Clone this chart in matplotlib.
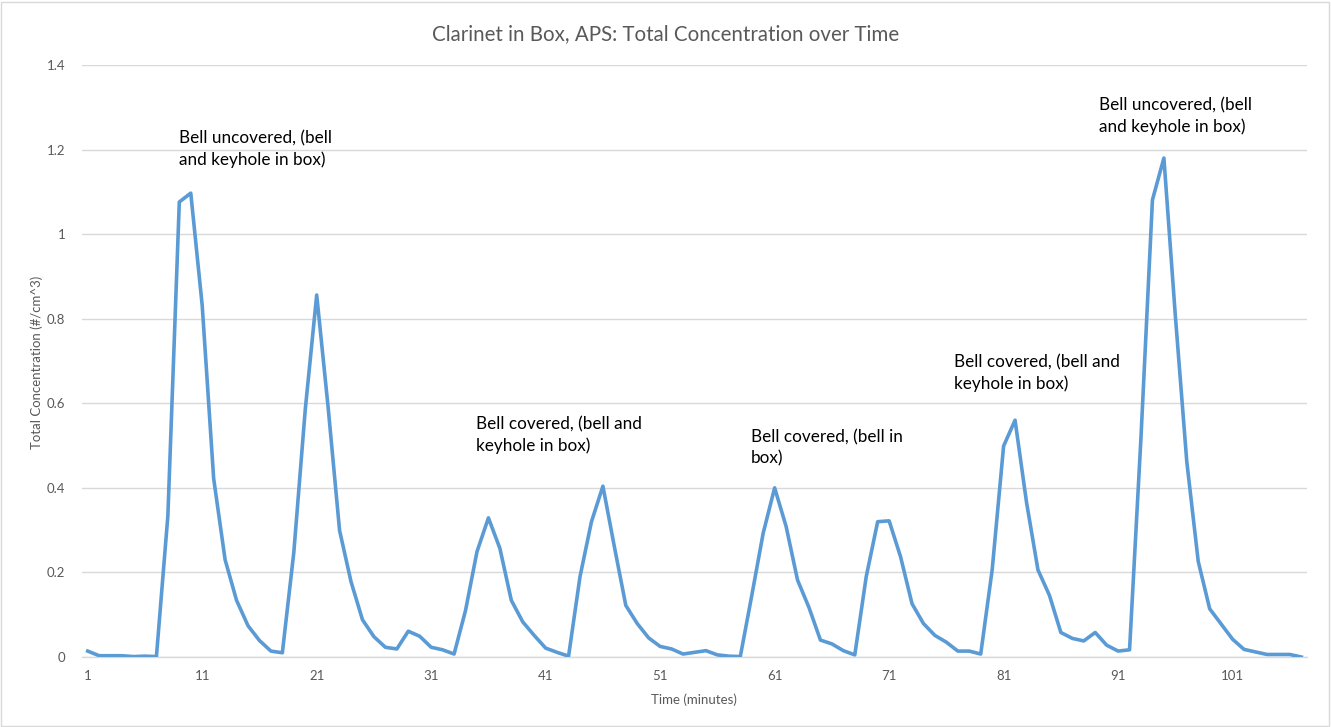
import matplotlib
matplotlib.use("Agg")
import matplotlib.pyplot as plt
from matplotlib.patches import Rectangle

title = "Clarinet in Box, APS: Total Concentration over Time"
x_label = "Time (minutes)"
y_label = "Total Concentration (#/cm^3)"

minutes = list(range(1, 108))
concentration = [
    0.014, 0.003, 0.003, 0.003, 0.001, 0.002, 0.001, 0.334, 1.076, 1.097,
    0.831, 0.422, 0.230, 0.134, 0.074, 0.039, 0.014, 0.010, 0.247, 0.585,
    0.856, 0.590, 0.299, 0.178, 0.088, 0.048, 0.023, 0.019, 0.061, 0.049,
    0.023, 0.017, 0.007, 0.110, 0.249, 0.329, 0.257, 0.134, 0.083, 0.051,
    0.021, 0.011, 0.002, 0.190, 0.320, 0.404, 0.261, 0.122, 0.079, 0.045,
    0.025, 0.019, 0.007, 0.011, 0.015, 0.005, 0.002, 0.001, 0.145, 0.293,
    0.400, 0.309, 0.182, 0.117, 0.040, 0.031, 0.015, 0.005, 0.190, 0.320,
    0.322, 0.237, 0.126, 0.079, 0.051, 0.035, 0.014, 0.014, 0.007, 0.206,
    0.499, 0.560, 0.366, 0.206, 0.146, 0.058, 0.044, 0.038, 0.058, 0.028,
    0.014, 0.017, 0.520, 1.081, 1.180, 0.807, 0.462, 0.226, 0.114, 0.078,
    0.042, 0.018, 0.012, 0.006, 0.006, 0.006, 0.000,
]
x_ticks = [1, 11, 21, 31, 41, 51, 61, 71, 81, 91, 101]
y_ticks = [0, 0.2, 0.4, 0.6, 0.8, 1.0, 1.2, 1.4]
y_tick_labels = ["0", "0.2", "0.4", "0.6", "0.8", "1", "1.2", "1.4"]

annotations = [
    "Bell uncovered, (bell\nand keyhole in box)",
    "Bell covered, (bell and\nkeyhole in box)",
    "Bell covered, (bell in\nbox)",
    "Bell covered, (bell and\nkeyhole in box)",
    "Bell uncovered, (bell\nand keyhole in box)",
]
annot_px = [(179, 130), (476, 416), (751, 429), (954, 354), (1099, 97)]

W, H = 1331, 727
plt.rcParams['font.family'] = ['Lato', 'DejaVu Sans']
fig = plt.figure(figsize=(W / 100, H / 100), dpi=100)
fig.patch.set_facecolor('white')
fig.add_artist(Rectangle((1 / W, 1 / H), (W - 3) / W, (H - 3) / H,
                         transform=fig.transFigure, fill=False,
                         edgecolor='#d9d9d9', linewidth=1))

ax = fig.add_axes([82 / W, (H - 657) / H, (1307 - 82) / W, (657 - 65) / H])
ax.plot(minutes, concentration, color='#5b9bd5', linewidth=2.6,
        solid_joinstyle='round', zorder=3)
ax.set_xlim(0.5, 107.5)
ax.set_ylim(0, 1.4)
ax.set_yticks(y_ticks)
ax.set_yticklabels(y_tick_labels)
ax.set_xticks(x_ticks)
ax.set_xticklabels([str(t) for t in x_ticks])
ax.grid(axis='y', color='#d9d9d9', linewidth=1)
ax.set_axisbelow(True)
for s in ['top', 'right', 'left']:
    ax.spines[s].set_visible(False)
ax.spines['bottom'].set_color('#d9d9d9')
ax.spines['bottom'].set_linewidth(1)
ax.tick_params(axis='both', length=0, colors='#595959', labelsize=9.5)
ax.tick_params(axis='x', pad=9)
ax.tick_params(axis='y', pad=12)

fig.text(0.5, 1 - 34 / H, title, ha='center', va='center',
         fontsize=14.8, color='#595959')
fig.text(694 / W, 1 - 700 / H, x_label, ha='center', va='center',
         fontsize=9.5, color='#595959')
fig.text(37 / W, 1 - 362 / H, y_label, ha='center', va='center',
         rotation=90, fontsize=9.5, color='#595959')

for txt, (px, py) in zip(annotations, annot_px):
    fig.text(px / W, 1 - py / H, txt, ha='left', va='top', fontsize=12.3,
             color='black', linespacing=1.4)

fig.savefig('out.png', dpi=100)
